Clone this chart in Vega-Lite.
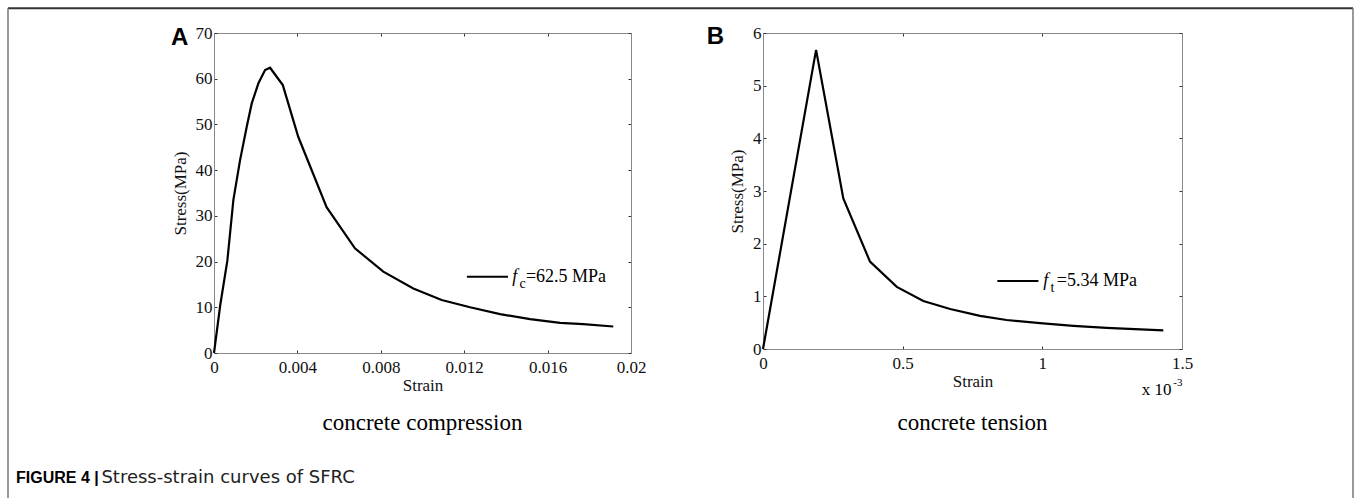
{
  "$schema": "https://vega.github.io/schema/vega-lite/v6.json",
  "padding": {"left": 7, "top": 7, "right": 0, "bottom": 0},
  "background": "white",
  "datasets": {
    "compression": [
      {"strain": 0, "stress": 0},
      {"strain": 0.0003, "stress": 10.5},
      {"strain": 0.00064, "stress": 20.2},
      {"strain": 0.00093, "stress": 33.5},
      {"strain": 0.00125, "stress": 42.2},
      {"strain": 0.00157, "stress": 49.5},
      {"strain": 0.00181, "stress": 54.6},
      {"strain": 0.00213, "stress": 59.0},
      {"strain": 0.00245, "stress": 61.9},
      {"strain": 0.00269, "stress": 62.4},
      {"strain": 0.0033, "stress": 58.6},
      {"strain": 0.00404, "stress": 47.3},
      {"strain": 0.0054, "stress": 31.9},
      {"strain": 0.00676, "stress": 22.9},
      {"strain": 0.00812, "stress": 17.8},
      {"strain": 0.00956, "stress": 14.1},
      {"strain": 0.01092, "stress": 11.6},
      {"strain": 0.01228, "stress": 10.0},
      {"strain": 0.01372, "stress": 8.5},
      {"strain": 0.01516, "stress": 7.4},
      {"strain": 0.0166, "stress": 6.6},
      {"strain": 0.01771, "stress": 6.3},
      {"strain": 0.01915, "stress": 5.8}
    ],
    "tension": [
      {"strain": 0, "stress": 0},
      {"strain": 0.19, "stress": 5.68},
      {"strain": 0.2875, "stress": 2.86},
      {"strain": 0.383, "stress": 1.66},
      {"strain": 0.479, "stress": 1.18},
      {"strain": 0.574, "stress": 0.91},
      {"strain": 0.67, "stress": 0.76},
      {"strain": 0.777, "stress": 0.63},
      {"strain": 0.872, "stress": 0.55},
      {"strain": 0.992, "stress": 0.49},
      {"strain": 1.111, "stress": 0.44},
      {"strain": 1.23, "stress": 0.40},
      {"strain": 1.433, "stress": 0.355}
    ],
    "one": [{}]
  },
  "hconcat": [
    {
      "width": 417,
      "height": 320,
      "layer": [
        {
          "data": {"name": "compression"},
          "mark": {"type": "line", "color": "#000", "strokeWidth": 2.2},
          "encoding": {
            "x": {"field": "strain", "type": "quantitative", "scale": {"domain": [0, 0.02], "nice": false},
                  "axis": {"orient": "bottom", "values": [0, 0.004, 0.008, 0.012, 0.016, 0.02], "format": "~g", "title": "Strain"}},
            "y": {"field": "stress", "type": "quantitative", "scale": {"domain": [0, 70], "nice": false},
                  "axis": {"orient": "left", "values": [0, 10, 20, 30, 40, 50, 60, 70], "title": "Stress(MPa)"}}
          }
        },
        {
          "data": {"name": "compression"},
          "mark": {"type": "point", "opacity": 0},
          "encoding": {
            "x": {"field": "strain", "type": "quantitative", "scale": {"domain": [0, 0.02], "nice": false},
                  "axis": {"orient": "top", "values": [0, 0.004, 0.008, 0.012, 0.016, 0.02], "labels": false, "title": null}},
            "y": {"field": "stress", "type": "quantitative", "scale": {"domain": [0, 70], "nice": false},
                  "axis": {"orient": "right", "values": [0, 10, 20, 30, 40, 50, 60, 70], "labels": false, "title": null}}
          }
        },
        {
          "data": {"name": "one"},
          "mark": {"type": "text", "text": "A", "font": "Liberation Sans", "fontWeight": "bold", "fontSize": 24, "align": "left", "baseline": "alphabetic", "color": "#000"},
          "encoding": {"x": {"datum": -0.00206, "type": "quantitative", "axis": null}, "y": {"datum": 67.4, "type": "quantitative", "axis": null}}
        },
        {
          "data": {"name": "one"},
          "mark": {"type": "rule", "color": "#000", "strokeWidth": 2},
          "encoding": {"x": {"datum": 0.01213, "type": "quantitative", "axis": null}, "x2": {"datum": 0.0141}, "y": {"datum": 16.7, "type": "quantitative", "axis": null}}
        },
        {
          "data": {"name": "one"},
          "mark": {"type": "text", "text": "f", "font": "Liberation Serif", "fontStyle": "italic", "fontSize": 18, "align": "left", "baseline": "alphabetic", "color": "#000"},
          "encoding": {"x": {"datum": 0.0143, "type": "quantitative", "axis": null}, "y": {"datum": 15.6, "type": "quantitative", "axis": null}}
        },
        {
          "data": {"name": "one"},
          "mark": {"type": "text", "text": "c", "font": "Liberation Serif", "fontSize": 14, "align": "left", "baseline": "alphabetic", "color": "#000"},
          "encoding": {"x": {"datum": 0.01465, "type": "quantitative", "axis": null}, "y": {"datum": 14.2, "type": "quantitative", "axis": null}}
        },
        {
          "data": {"name": "one"},
          "mark": {"type": "text", "text": "=62.5 MPa", "font": "Liberation Serif", "fontSize": 18, "align": "left", "baseline": "alphabetic", "color": "#000"},
          "encoding": {"x": {"datum": 0.01496, "type": "quantitative", "axis": null}, "y": {"datum": 15.6, "type": "quantitative", "axis": null}}
        },
        {
          "data": {"name": "one"},
          "mark": {"type": "text", "text": "concrete compression", "font": "Liberation Serif", "fontSize": 23, "align": "center", "baseline": "alphabetic", "color": "#000"},
          "encoding": {"x": {"datum": 0.01, "type": "quantitative", "axis": null}, "y": {"datum": -16.84, "type": "quantitative", "axis": null}}
        },
        {
          "data": {"name": "one"},
          "mark": {"type": "text", "text": "FIGURE 4 |", "font": "Liberation Sans", "fontWeight": "bold", "fontSize": 16, "align": "left", "baseline": "alphabetic", "color": "#000"},
          "encoding": {"x": {"datum": -0.009496, "type": "quantitative", "axis": null}, "y": {"datum": -28.45, "type": "quantitative", "axis": null}}
        },
        {
          "data": {"name": "one"},
          "mark": {"type": "text", "text": "Stress-strain curves of SFRC", "font": "DejaVu Sans", "fontSize": 18, "align": "left", "baseline": "alphabetic", "color": "#222"},
          "encoding": {"x": {"datum": -0.0054, "type": "quantitative", "axis": null}, "y": {"datum": -28.45, "type": "quantitative", "axis": null}}
        },
        {
          "data": {"name": "one"},
          "mark": {"type": "rule", "color": "#333", "strokeWidth": 2},
          "encoding": {"x": {"datum": -0.00988, "type": "quantitative", "axis": null}, "x2": {"datum": 0.054628}, "y": {"datum": 75.43, "type": "quantitative", "axis": null}}
        },
        {
          "data": {"name": "one"},
          "mark": {"type": "rule", "color": "#777", "strokeWidth": 1.5},
          "encoding": {"x": {"datum": -0.00988, "type": "quantitative", "axis": null}, "y": {"datum": 75.43, "type": "quantitative", "axis": null}, "y2": {"datum": -32.2}}
        },
        {
          "data": {"name": "one"},
          "mark": {"type": "rule", "color": "#777", "strokeWidth": 1.5},
          "encoding": {"x": {"datum": 0.054628, "type": "quantitative", "axis": null}, "y": {"datum": 75.43, "type": "quantitative", "axis": null}, "y2": {"datum": -32.2}}
        }
      ],
      "resolve": {"axis": {"x": "independent", "y": "independent"}}
    },
    {
      "width": 419,
      "height": 316,
      "layer": [
        {
          "data": {"name": "tension"},
          "mark": {"type": "line", "color": "#000", "strokeWidth": 2.2},
          "encoding": {
            "x": {"field": "strain", "type": "quantitative", "scale": {"domain": [0, 1.5], "nice": false},
                  "axis": {"orient": "bottom", "values": [0, 0.5, 1, 1.5], "format": "~g", "title": "Strain"}},
            "y": {"field": "stress", "type": "quantitative", "scale": {"domain": [0, 6], "nice": false},
                  "axis": {"orient": "left", "values": [0, 1, 2, 3, 4, 5, 6], "title": "Stress(MPa)"}}
          }
        },
        {
          "data": {"name": "tension"},
          "mark": {"type": "point", "opacity": 0},
          "encoding": {
            "x": {"field": "strain", "type": "quantitative", "scale": {"domain": [0, 1.5], "nice": false},
                  "axis": {"orient": "top", "values": [0, 0.5, 1, 1.5], "labels": false, "title": null}},
            "y": {"field": "stress", "type": "quantitative", "scale": {"domain": [0, 6], "nice": false},
                  "axis": {"orient": "right", "values": [0, 1, 2, 3, 4, 5, 6], "labels": false, "title": null}}
          }
        },
        {
          "data": {"name": "one"},
          "mark": {"type": "text", "text": "B", "font": "Liberation Sans", "fontWeight": "bold", "fontSize": 24, "align": "left", "baseline": "alphabetic", "color": "#000"},
          "encoding": {"x": {"datum": -0.2016, "type": "quantitative", "axis": null}, "y": {"datum": 5.785, "type": "quantitative", "axis": null}}
        },
        {
          "data": {"name": "one"},
          "mark": {"type": "rule", "color": "#000", "strokeWidth": 2},
          "encoding": {"x": {"datum": 0.839, "type": "quantitative", "axis": null}, "x2": {"datum": 0.986}, "y": {"datum": 1.29, "type": "quantitative", "axis": null}}
        },
        {
          "data": {"name": "one"},
          "mark": {"type": "text", "text": "f", "font": "Liberation Serif", "fontStyle": "italic", "fontSize": 18, "align": "left", "baseline": "alphabetic", "color": "#000"},
          "encoding": {"x": {"datum": 1.003, "type": "quantitative", "axis": null}, "y": {"datum": 1.2, "type": "quantitative", "axis": null}}
        },
        {
          "data": {"name": "one"},
          "mark": {"type": "text", "text": "t", "font": "Liberation Serif", "fontSize": 14, "align": "left", "baseline": "alphabetic", "color": "#000"},
          "encoding": {"x": {"datum": 1.029, "type": "quantitative", "axis": null}, "y": {"datum": 1.088, "type": "quantitative", "axis": null}}
        },
        {
          "data": {"name": "one"},
          "mark": {"type": "text", "text": "=5.34 MPa", "font": "Liberation Serif", "fontSize": 18, "align": "left", "baseline": "alphabetic", "color": "#000"},
          "encoding": {"x": {"datum": 1.052, "type": "quantitative", "axis": null}, "y": {"datum": 1.2, "type": "quantitative", "axis": null}}
        },
        {
          "data": {"name": "one"},
          "mark": {"type": "text", "text": "x 10", "font": "Liberation Serif", "fontSize": 17, "align": "left", "baseline": "alphabetic", "color": "#000"},
          "encoding": {"x": {"datum": 1.356, "type": "quantitative", "axis": null}, "y": {"datum": -0.873, "type": "quantitative", "axis": null}}
        },
        {
          "data": {"name": "one"},
          "mark": {"type": "text", "text": "-3", "font": "Liberation Serif", "fontSize": 11, "align": "left", "baseline": "alphabetic", "color": "#000"},
          "encoding": {"x": {"datum": 1.469, "type": "quantitative", "axis": null}, "y": {"datum": -0.7, "type": "quantitative", "axis": null}}
        },
        {
          "data": {"name": "one"},
          "mark": {"type": "text", "text": "concrete tension", "font": "Liberation Serif", "fontSize": 23, "align": "center", "baseline": "alphabetic", "color": "#000"},
          "encoding": {"x": {"datum": 0.75, "type": "quantitative", "axis": null}, "y": {"datum": -1.538, "type": "quantitative", "axis": null}}
        }
      ],
      "resolve": {"axis": {"x": "independent", "y": "independent"}}
    }
  ],
  "spacing": 132,
  "bounds": "flush",
  "config": {
    "view": {"stroke": null},
    "axis": {
      "grid": false,
      "domainColor": "#888",
      "domainWidth": 1,
      "tickColor": "#333",
      "tickSize": -3,
      "tickWidth": 1,
      "labelFont": "Liberation Serif",
      "labelFontSize": 17,
      "labelColor": "#111",
      "labelFlush": false,
      "labelOverlap": false,
      "titleFont": "Liberation Serif",
      "titleFontSize": 17,
      "titleFontWeight": "normal",
      "titleColor": "#111"
    },
    "axisX": {"labelPadding": 9, "titlePadding": 2},
    "axisY": {"labelPadding": 5, "titlePadding": 6}
  }
}
